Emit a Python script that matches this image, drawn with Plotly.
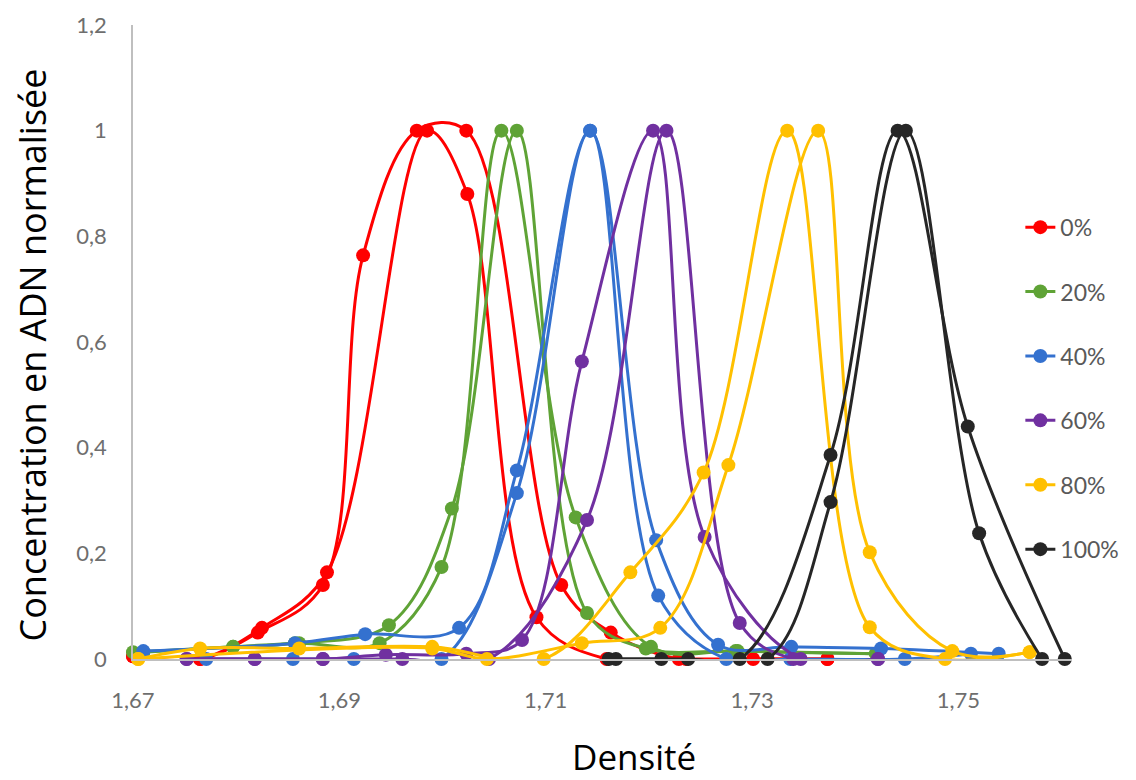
import plotly.graph_objects as go

# ---- data (density, normalised DNA concentration), two replicates per condition ----
labels = ["0%", "20%", "40%", "60%", "80%", "100%"]
colors = ["#FF0000", "#5FA336", "#3471CF", "#7030A0", "#FFC000", "#262626"]

red_x_a = [1.6700, 1.6765, 1.6821, 1.6884, 1.6923, 1.6975, 1.7023, 1.7115, 1.7163, 1.7229, 1.7301, 1.7373]
red_y_a = [0.005, 0.0, 0.05, 0.14, 0.764, 1.0, 1.0, 0.14, 0.05, 0.0, 0.0, 0.0]
red_x_b = [1.6700, 1.6765, 1.6825, 1.6888, 1.6985, 1.7024, 1.7091, 1.7159, 1.7236, 1.7373]
red_y_b = [0.005, 0.0, 0.059, 0.164, 1.0, 0.88, 0.079, 0.0, 0.0, 0.0]

green_x_a = [1.6700, 1.6797, 1.6861, 1.6939, 1.6999, 1.7057, 1.7129, 1.7202, 1.7286, 1.7420]
green_y_a = [0.013, 0.023, 0.03, 0.03, 0.174, 1.0, 0.268, 0.023, 0.015, 0.01]
green_x_b = [1.6710, 1.6797, 1.6857, 1.6948, 1.7009, 1.7072, 1.7140, 1.7197, 1.7284, 1.7420]
green_y_b = [0.013, 0.023, 0.03, 0.064, 0.285, 1.0, 0.087, 0.02, 0.015, 0.01]

blue_x_a = [1.6710, 1.6857, 1.6925, 1.7016, 1.7072, 1.7143, 1.7207, 1.7267, 1.7338, 1.7425, 1.7539]
blue_y_a = [0.015, 0.03, 0.047, 0.059, 0.357, 1.0, 0.225, 0.027, 0.023, 0.02, 0.01]
blue_x_b = [1.6771, 1.6855, 1.6914, 1.6999, 1.7072, 1.7143, 1.7209, 1.7275, 1.7337, 1.7448, 1.7512]
blue_y_b = [0.0, 0.0, 0.0, 0.0, 0.314, 1.0, 0.12, 0.0, 0.0, 0.0, 0.01]

purple_x_a = [1.6752, 1.6818, 1.6884, 1.6945, 1.7023, 1.7077, 1.7135, 1.7204, 1.7254, 1.7347, 1.7422]
purple_y_a = [0.0, 0.0, 0.0, 0.008, 0.01, 0.036, 0.563, 1.0, 0.231, 0.0, 0.0]
purple_x_b = [1.6752, 1.6818, 1.6884, 1.6961, 1.7045, 1.7140, 1.7217, 1.7288, 1.7340, 1.7422]
purple_y_b = [0.0, 0.0, 0.0, 0.0, 0.0, 0.263, 1.0, 0.068, 0.0, 0.0]

yellow_x_a = [1.6705, 1.6765, 1.6861, 1.6990, 1.7098, 1.7182, 1.7253, 1.7334, 1.7414, 1.7487, 1.7569]
yellow_y_a = [0.0, 0.02, 0.02, 0.023, 0.0, 0.164, 0.353, 1.0, 0.06, 0.0, 0.013]
yellow_x_b = [1.6705, 1.6990, 1.7043, 1.7135, 1.7211, 1.7277, 1.7364, 1.7414, 1.7494, 1.7569]
yellow_y_b = [0.0, 0.02, 0.0, 0.03, 0.059, 0.367, 1.0, 0.202, 0.015, 0.013]

black_x_a = [1.7161, 1.7212, 1.7288, 1.7376, 1.7441, 1.7509, 1.7603]
black_y_a = [0.0, 0.0, 0.0, 0.386, 1.0, 0.44, 0.0]
black_x_b = [1.7168, 1.7238, 1.7315, 1.7376, 1.7449, 1.7520, 1.7581]
black_y_b = [0.0, 0.0, 0.0, 0.297, 1.0, 0.238, 0.0]

x_ticks = [1.67, 1.69, 1.71, 1.73, 1.75]
y_ticks = [0, 0.2, 0.4, 0.6, 0.8, 1.0, 1.2]
x_title = "Densité"
y_title = "Concentration en ADN normalisée"

series = [
    (red_x_a, red_y_a, red_x_b, red_y_b),
    (green_x_a, green_y_a, green_x_b, green_y_b),
    (blue_x_a, blue_y_a, blue_x_b, blue_y_b),
    (purple_x_a, purple_y_a, purple_x_b, purple_y_b),
    (yellow_x_a, yellow_y_a, yellow_x_b, yellow_y_b),
    (black_x_a, black_y_a, black_x_b, black_y_b),
]

fig = go.Figure()
for (xa, ya, xb, yb), name, col in zip(series, labels, colors):
    for i, (xs, ys) in enumerate([(xa, ya), (xb, yb)]):
        fig.add_trace(go.Scatter(
            x=xs, y=ys, mode="lines+markers", name=name, legendgroup=name,
            showlegend=(i == 0), cliponaxis=False,
            line=dict(color=col, width=3, shape="spline", smoothing=1),
            marker=dict(color=col, size=14),
        ))

fig.add_annotation(text=x_title, xref="paper", yref="paper", x=0.5335, y=-0.153,
                   xanchor="center", yanchor="middle", showarrow=False,
                   font=dict(family="Open Sans, sans-serif", size=35, color="black"))
fig.add_annotation(text=y_title, xref="paper", yref="paper", x=-0.107, y=0.4795,
                   xanchor="center", yanchor="middle", showarrow=False, textangle=-90,
                   font=dict(family="Open Sans, sans-serif", size=36, color="black"))

fig.update_layout(
    width=1128, height=772,
    margin=dict(l=125, r=62, t=17, b=121),
    paper_bgcolor="white", plot_bgcolor="white",
    separators=", ",
    font=dict(family="Lato, Liberation Sans, sans-serif"),
    legend=dict(
        x=0.945, y=0.715, xanchor="left", yanchor="top",
        bgcolor="rgba(0,0,0,0)", font=dict(size=23, color="#595959"),
        tracegroupgap=31.5, traceorder="grouped",
    ),
    xaxis=dict(
        range=[1.67, 1.761], tickmode="array", tickvals=x_ticks,
        showline=True, linecolor="#BFBFBF", linewidth=1.5,
        showgrid=False, zeroline=False,
        ticks="outside", ticklen=21, tickcolor="rgba(0,0,0,0)",
        tickfont=dict(size=22, color="#6E6E6E"),
        automargin=False,
    ),
    yaxis=dict(
        range=[0, 1.2], tickmode="array", tickvals=y_ticks,
        showline=True, linecolor="#BFBFBF", linewidth=1.5,
        showgrid=False, zeroline=False,
        ticks="outside", ticklen=20, tickcolor="rgba(0,0,0,0)",
        tickfont=dict(size=22, color="#6E6E6E"),
        automargin=False,
    ),
)

fig.write_html("out.html")
